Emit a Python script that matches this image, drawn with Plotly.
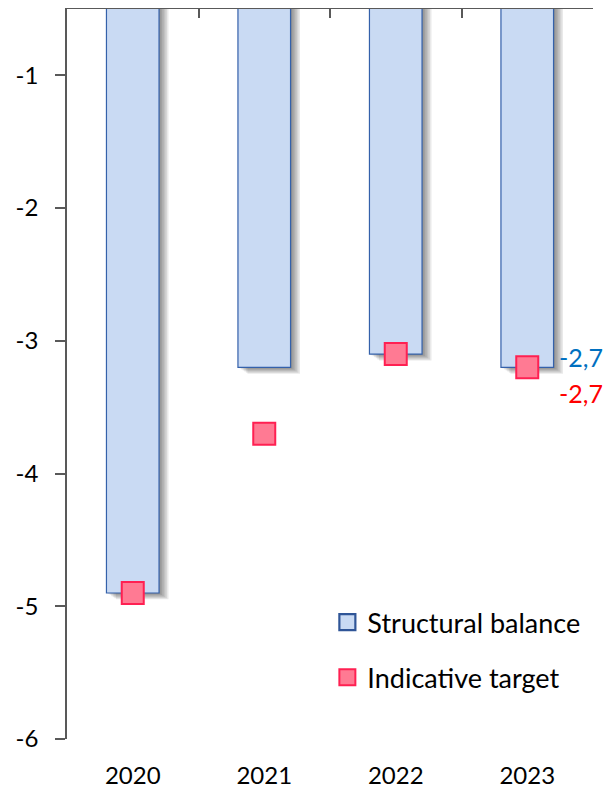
import plotly.graph_objects as go

years = ["2020", "2021", "2022", "2023"]
structural_balance = [-4.9, -3.2, -3.1, -3.2]
indicative_target = [-4.9, -3.7, -3.1, -3.2]
y_ticks = [-6, -5, -4, -3, -2, -1]
y_tick_labels = ["-6", "-5", "-4", "-3", "-2", "-1"]
end_labels = ["-2,7", "-2,7"]

FONT = "Lato"
BAR_W = 0.4
X_RANGE = [-0.5, len(years) - 0.5]
last = len(years) - 1

fig = go.Figure()

# soft shadow behind bars (layered translucent copies)
for k in range(1, 7):
    fig.add_trace(go.Bar(
        x=years, y=[v - 0.008 * k for v in structural_balance],
        width=BAR_W, offset=-BAR_W / 2 + 0.012 * k,
        marker=dict(color="rgba(0,0,0,0.085)", line=dict(width=0)),
        showlegend=False, hoverinfo="skip",
    ))

fig.add_trace(go.Bar(
    x=years, y=structural_balance, width=BAR_W, offset=-BAR_W / 2,
    marker=dict(color="#C9DAF3", line=dict(color="#3461AA", width=1.2)),
    name="Structural balance", showlegend=False,
))

fig.add_trace(go.Scatter(
    x=years, y=indicative_target, mode="markers", xaxis="x2",
    marker=dict(symbol="square", size=22, color="#FF7A93",
                line=dict(color="#FF2052", width=2)),
    name="Indicative target", showlegend=False, cliponaxis=False,
))

# legend entries
fig.add_trace(go.Scatter(
    x=[None], y=[None], mode="markers", name="Structural balance",
    legendgroup="a",
    marker=dict(symbol="square", size=16, color="#C9DAF3",
                line=dict(color="#2F5597", width=2.2)),
))
fig.add_trace(go.Scatter(
    x=[None], y=[None], mode="markers", name="Indicative target",
    legendgroup="b",
    marker=dict(symbol="square", size=16, color="#FF7A93",
                line=dict(color="#FF2052", width=2)),
))

fig.add_annotation(x=last, y=structural_balance[last], text=end_labels[0],
                   showarrow=False, xanchor="right", yanchor="middle",
                   xshift=78, yshift=10,
                   font=dict(family=FONT, size=25, color="#0070C0"))
fig.add_annotation(x=last, y=indicative_target[last], text=end_labels[1],
                   showarrow=False, xanchor="right", yanchor="middle",
                   xshift=78, yshift=-26,
                   font=dict(family=FONT, size=25, color="#FF0000"))

fig.update_layout(
    width=605, height=782,
    margin=dict(l=59, r=20, t=1, b=51),
    paper_bgcolor="white", plot_bgcolor="white",
    barmode="overlay",
    font=dict(family=FONT, size=24, color="#000000"),
    xaxis=dict(type="category", categoryorder="array", categoryarray=years,
               range=X_RANGE, automargin=False,
               showline=False, ticks="", showgrid=False, zeroline=False,
               tickfont=dict(family=FONT, size=24), ticklabelstandoff=20),
    xaxis2=dict(type="category", categoryorder="array", categoryarray=years,
                range=X_RANGE, overlaying="x", side="top", automargin=False,
                anchor="y", showline=True, linecolor="#595959", linewidth=1.5,
                ticks="inside", tickson="boundaries", ticklen=9,
                tickcolor="#595959", tickwidth=1.5, showticklabels=False,
                showgrid=False, zeroline=False),
    yaxis=dict(range=[-6, -0.5], tickvals=y_ticks, ticktext=y_tick_labels,
               automargin=False,
               showline=True, linecolor="#595959", linewidth=1.5,
               ticks="outside", ticklen=10, tickcolor="#595959", tickwidth=1.5,
               showgrid=False, zeroline=False, ticklabelstandoff=12,
               tickfont=dict(family=FONT, size=24)),
    legend=dict(x=0.495, y=0.193, xanchor="left", yanchor="top",
                bgcolor="rgba(0,0,0,0)", traceorder="grouped",
                tracegroupgap=17, font=dict(family=FONT, size=27)),
)

fig.write_html("out.html")
